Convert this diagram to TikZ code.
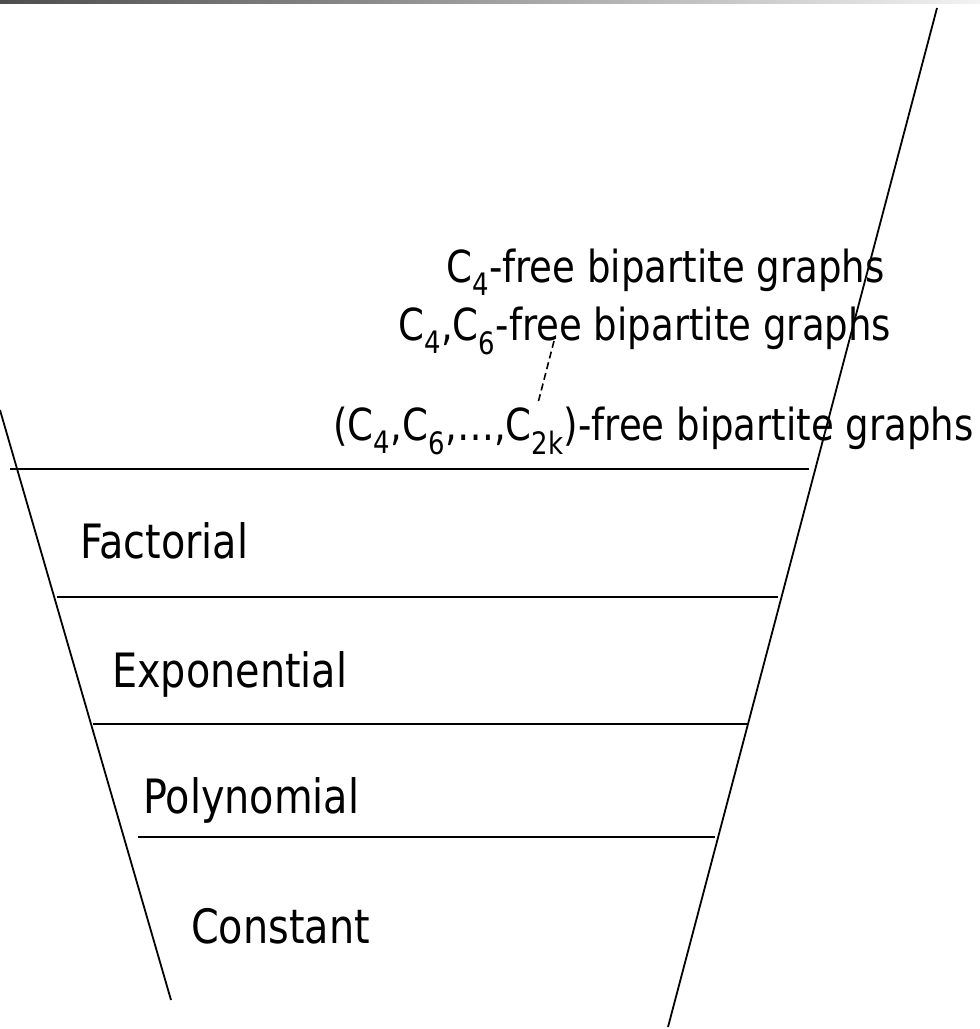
\documentclass[tikz,border=0pt]{standalone}
\usepackage{fontspec}
\setmainfont{DejaVu Sans}[FakeStretch=0.84]
\usetikzlibrary{calc}
\begin{document}
\begin{tikzpicture}[x=1bp,y=-1bp,
    rim/.style={line width=1.8bp},
    tier/.style={line width=2.4bp},
    lvl/.style={anchor=base west,inner sep=0pt,font=\fontsize{47.5}{57}\selectfont},
    cls/.style={anchor=base west,inner sep=0pt,font=\fontsize{44.3}{53}\selectfont},
    link/.style={line width=1.6bp,dash pattern=on 7bp off 4bp},
  ]
  \useasboundingbox (0,0) rectangle (980,1029);
  \shade[left color=black!70,right color=black!5] (0,0) rectangle (980,3);
  % funnel sides
  \coordinate (lt) at (0,410);
  \coordinate (lb) at (171,1000);
  \coordinate (rt) at (937,8);
  \coordinate (rb) at (668,1027);
  \draw[rim] (lt) -- (lb);
  \draw[rim] (rt) -- (rb);
  % tier borders
  \draw[tier] (10,469) -- (809,469);
  \draw[tier] (57,597) -- (778,597);
  \draw[tier] (93,724) -- (748,724);
  \draw[tier] (138,837) -- (715,837);
  % growth levels
  \node[lvl] (fact) at (80,558) {Factorial};
  \node[lvl] (expo) at (112,687) {Exponential};
  \node[lvl] (poly) at (143,813) {Polynomial};
  \node[lvl] (const) at (191,943) {Constant};
  % graph classes
  \node[cls] (c4) at (446,282) {C\textsubscript{4}-free bipartite graphs};
  \node[cls] (c46) at (398,340) {C\textsubscript{4},C\textsubscript{6}-free bipartite graphs};
  \node[cls] (c2k) at (333,440) {(C\textsubscript{4},C\textsubscript{6},…,C\textsubscript{2k})-free bipartite graphs};
  \coordinate (d1) at (554,341);
  \coordinate (d2) at (538,403);
  \draw[link] (d1) -- (d2);
\end{tikzpicture}
\end{document}
